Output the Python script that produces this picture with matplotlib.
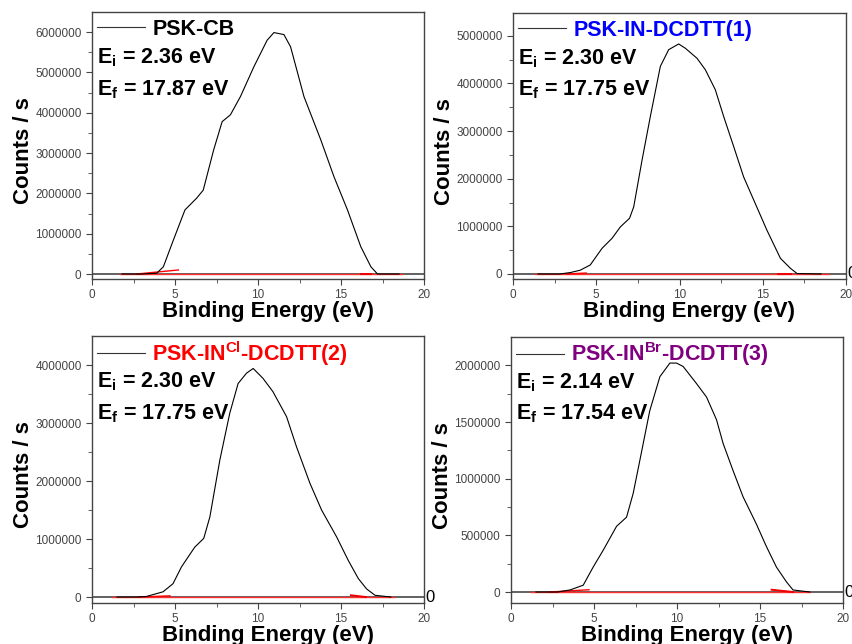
import matplotlib
matplotlib.use("Agg")
import matplotlib.pyplot as plt
import matplotlib.transforms as mtransforms

plt.rcParams['font.family'] = ['Liberation Sans', 'DejaVu Sans']
plt.rcParams['mathtext.fontset'] = 'custom'
plt.rcParams['mathtext.rm'] = 'Liberation Sans:bold'
plt.rcParams['mathtext.bf'] = 'Liberation Sans:bold'

# ---- data (energy in eV, counts/s in units of 1e6) ----
cb_x = [1.8, 3.0, 3.9, 4.3, 4.9, 5.6, 6.3, 6.7, 7.33, 7.84, 8.34, 8.94, 9.75, 10.55,
        10.96, 11.56, 11.96, 12.77, 13.78, 14.58, 15.39, 16.19, 16.8, 17.2, 18.5]
cb_y = [0.0, 0.0, 0.02, 0.18, 0.84, 1.59, 1.88, 2.08, 3.08, 3.78, 3.95, 4.4, 5.14, 5.8,
        5.99, 5.94, 5.64, 4.4, 3.33, 2.41, 1.59, 0.68, 0.18, 0.0, 0.0]

in1_x = [1.5, 2.8, 3.44, 4.04, 4.64, 5.35, 5.95, 6.45, 7.0, 7.25, 7.75, 8.25, 8.85, 9.35,
         9.95, 10.35, 11.05, 11.55, 12.15, 12.65, 13.25, 13.85, 14.55, 15.25, 16.06,
         16.66, 17.06, 18.5]
in1_y = [0.0, 0.0, 0.03, 0.08, 0.19, 0.54, 0.75, 0.99, 1.17, 1.41, 2.39, 3.31, 4.36, 4.71,
         4.83, 4.74, 4.53, 4.29, 3.87, 3.31, 2.68, 2.04, 1.48, 0.92, 0.33, 0.12, 0.01, 0.0]

in2_x = [1.5, 2.7, 3.28, 4.28, 4.88, 5.39, 6.19, 6.73, 7.1, 7.7, 8.3, 8.8, 9.31, 9.71,
         10.3, 10.9, 11.72, 12.32, 13.13, 13.83, 14.73, 15.44, 16.04, 16.54, 17.05, 18.0]
in2_y = [0.0, 0.0, 0.01, 0.09, 0.23, 0.52, 0.86, 1.01, 1.38, 2.36, 3.17, 3.68, 3.86, 3.94,
         3.77, 3.54, 3.11, 2.59, 1.96, 1.5, 1.04, 0.63, 0.32, 0.14, 0.03, 0.0]

in3_x = [1.5, 2.8, 3.55, 4.35, 4.95, 5.56, 6.36, 6.96, 7.36, 7.76, 8.36, 8.97, 9.57, 9.97,
         10.37, 11.17, 11.78, 12.38, 12.78, 13.38, 13.98, 14.78, 15.39, 15.99, 16.59,
         16.99, 18.0]
in3_y = [0.0, 0.0, 0.018, 0.06, 0.22, 0.37, 0.58, 0.66, 0.87, 1.16, 1.6, 1.9, 2.02, 2.02,
         1.99, 1.84, 1.72, 1.52, 1.31, 1.07, 0.84, 0.6, 0.4, 0.22, 0.09, 0.018, 0.0]

# red baseline fits: (x start, x end) of the baseline and the onset / tail fit segments
base_x = [(1.7, 18.7), (1.3, 19.0), (1.2, 18.2), (1.2, 18.0)]
onset_fit = [((2.7, 5.2), (0.0, 0.1)), ((3.2, 4.4), (0.0, 0.02)),
             ((2.8, 4.7), (0.0, 0.02)), ((2.3, 4.7), (0.0, 0.02))]
tail_fit = [((16.2, 16.8), (0.0, 0.0)), ((15.9, 16.7), (0.0, 0.0)),
            ((15.6, 16.5), (0.03, 0.0)), ((15.7, 17.0), (0.02, 0.0))]

labels = ["PSK-CB", "PSK-IN-DCDTT(1)", r"PSK-IN$^{\mathbf{Cl}}$-DCDTT(2)",
          r"PSK-IN$^{\mathbf{Br}}$-DCDTT(3)"]
label_colors = ["black", "#0000ff", "#ff0000", "#800080"]
e_i = ["2.36", "2.30", "2.30", "2.14"]
e_f = ["17.87", "17.75", "17.75", "17.54"]
y_max = [6.5, 5.48, 4.5, 2.25]
y_min = [-0.124, -0.105, -0.103, -0.097]
y_step = [1.0, 1.0, 1.0, 0.5]

series = [(cb_x, cb_y), (in1_x, in1_y), (in2_x, in2_y), (in3_x, in3_y)]

# axes rectangles in pixels: left, top, width, height
W, H = 852, 644
rects_px = [(92, 12, 332, 267), (513, 13, 333, 266), (92, 336, 332, 267), (511, 337, 332, 266)]

fig = plt.figure(figsize=(W / 100, H / 100), dpi=100)

for i, (xs, ys) in enumerate(series):
    l, t, w, h = rects_px[i]
    ax = fig.add_axes([l / W, (H - t - h) / H, w / W, h / H])

    ax.axhline(0, color="#555555", lw=1.3, zorder=1)
    bx0, bx1 = base_x[i]
    ax.plot([bx0, bx1], [0, 0], color="#ff3030", lw=1.0, zorder=2)
    (ox, oy) = onset_fit[i]
    ax.plot(ox, [v * 1e6 for v in oy], color="#ff0000", lw=1.0, zorder=2)
    (tx, ty) = tail_fit[i]
    ax.plot(tx, [v * 1e6 for v in ty], color="#ee0000", lw=1.4, zorder=2)

    line, = ax.plot(xs, [v * 1e6 for v in ys], color="black", lw=0.8, zorder=3)

    ax.set_xlim(0, 20)
    ax.set_ylim(y_min[i] * 1e6, y_max[i] * 1e6)
    step = y_step[i] * 1e6
    ticks = [k * step for k in range(int(y_max[i] / y_step[i]) + 1)]
    ax.set_yticks(ticks)
    ax.set_yticklabels([str(int(round(v))) for v in ticks])
    ax.set_yticks([v + step / 2 for v in ticks if v + step / 2 < y_max[i] * 1e6], minor=True)
    ax.set_xticks([0, 5, 10, 15, 20])
    ax.set_xticks([2.5, 7.5, 12.5, 17.5], minor=True)

    ax.tick_params(which="both", direction="out", labelsize=8.5, labelcolor="#444444",
                   color="#444444", top=False, right=False)
    ax.tick_params(which="major", length=4)
    ax.tick_params(which="minor", length=3)
    for sp in ax.spines.values():
        sp.set_color("#444444")
        sp.set_linewidth(1.0)

    ax.set_xlabel("Binding Energy (eV)", fontsize=16, fontweight="bold")
    ax.xaxis.set_label_coords(0.53, -0.083)
    ax.xaxis.label.set_va("top")
    ax.set_ylabel("Counts / s", fontsize=16, fontweight="bold")
    ax.yaxis.set_label_coords(-0.175, 0.48)

    leg = ax.legend([line], [labels[i]], loc="center left", bbox_to_anchor=(-0.01, 0.935),
                    frameon=False, handlelength=2.2, handletextpad=0.35, borderaxespad=0.0,
                    prop={"size": 15.5, "weight": "bold"})
    leg.get_texts()[0].set_color(label_colors[i])
    leg.get_lines()[0].set_color("#333333")

    ax.text(0.015, 0.83, r"E$_\mathbf{i}$ = " + e_i[i] + " eV", transform=ax.transAxes,
            fontsize=15.5, fontweight="bold", va="center", ha="left")
    ax.text(0.015, 0.71, r"E$_\mathbf{f}$ = " + e_f[i] + " eV", transform=ax.transAxes,
            fontsize=15.5, fontweight="bold", va="center", ha="left")

    if i > 0:
        trans = mtransforms.blended_transform_factory(ax.transAxes, ax.transData)
        ax.text(1.005, 0, "0", transform=trans, fontsize=12, va="center", ha="left",
                clip_on=False)

fig.savefig("out.png", dpi=100)
